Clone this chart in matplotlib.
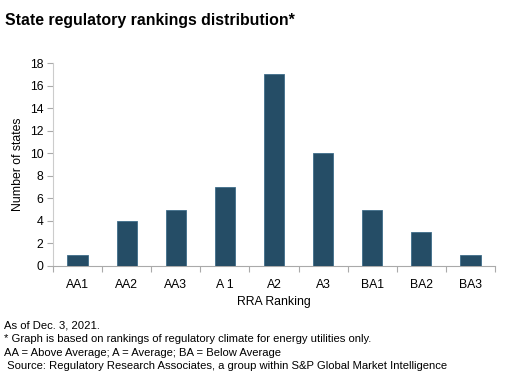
import matplotlib.pyplot as plt
import numpy as np

categories = ['AA1', 'AA2', 'AA3', 'A 1', 'A2', 'A3', 'BA1', 'BA2', 'BA3']
counts = [1, 4, 5, 7, 17, 10, 5, 3, 1]

plt.rcParams['font.family'] = ['Liberation Sans', 'DejaVu Sans']

fig = plt.figure(figsize=(5.05, 3.82), dpi=100)
ax = fig.add_axes([53 / 505, 1 - 266 / 382, 442 / 505, 203 / 382])

x = np.arange(len(categories))
ax.bar(x, counts, width=0.41, color='#254d66', edgecolor='#3f6e8a', linewidth=0.6, zorder=3)

ax.set_xlim(-0.5, len(categories) - 0.5)
ax.set_ylim(0, 18)
ax.set_yticks(range(0, 19, 2))
ax.set_xticks(x)
ax.set_xticklabels(categories)
ax.set_xticks(np.arange(-0.5, len(categories), 1), minor=True)
ax.tick_params(axis='x', which='major', length=0, pad=9, labelsize=8.8)
ax.tick_params(axis='x', which='minor', length=4, color='#aaaaaa', width=0.8)
ax.tick_params(axis='y', length=4, color='#aaaaaa', width=0.8, labelsize=8.8, pad=3)

for side in ['top', 'right']:
    ax.spines[side].set_visible(False)
ax.spines['left'].set_color('#cccccc')
ax.spines['bottom'].set_color('#aaaaaa')
ax.spines['left'].set_linewidth(0.8)
ax.spines['bottom'].set_linewidth(0.8)

ax.set_ylabel('Number of states', fontsize=8.8, labelpad=4)
ax.set_xlabel('RRA Ranking', fontsize=8.8, labelpad=4)

fig.text(5 / 505, 1 - 20 / 382, 'State regulatory rankings distribution*',
         fontsize=11.4, fontweight='bold', va='center', ha='left')

notes = [
    'As of Dec. 3, 2021.',
    '* Graph is based on rankings of regulatory climate for energy utilities only.',
    'AA = Above Average; A = Average; BA = Below Average',
    ' Source: Regulatory Research Associates, a group within S&P Global Market Intelligence',
]
for i, line in enumerate(notes):
    fig.text(4 / 505, 1 - (326 + i * 13.3) / 382, line, fontsize=8.1, va='center', ha='left')

fig.savefig('out.png', dpi=100)
